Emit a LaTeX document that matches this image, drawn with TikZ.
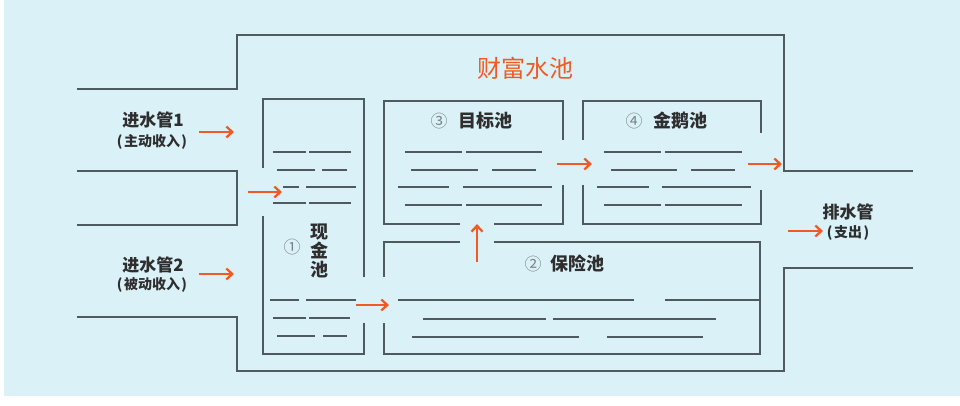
\documentclass[tikz,border=0pt]{standalone}
\usepackage{fontspec}
\setmainfont{Noto Sans CJK SC}
\usetikzlibrary{arrows.meta}
\definecolor{bgc}{HTML}{DAF1F8}
\definecolor{wallc}{HTML}{4E5A60}
\definecolor{orangec}{HTML}{F05A24}
\definecolor{txtc}{HTML}{2E2E2E}
\definecolor{numc}{HTML}{7A8488}
\tikzset{
  wall/.style={draw=wallc, line width=1.9pt, line join=miter},
  water/.style={draw=wallc, line width=1.7pt},
  flow/.style={draw=orangec, line width=2.3pt, -{Straight Barb[length=6pt,width=11pt,line width=2.3pt]}},
  lbl/.style={text=txtc, font=\fontsize{17}{19}\selectfont\bfseries, inner sep=0pt},
  sublbl/.style={text=txtc, font=\fontsize{14}{15}\selectfont\bfseries, inner sep=0pt},
  pooltitle/.style={text=txtc, font=\fontsize{18}{19}\selectfont\bfseries, inner sep=0pt},
  num/.style={text=numc, font=\fontsize{17}{18}\selectfont, inner sep=0pt}
}
\begin{document}
\begin{tikzpicture}[x=1pt,y=-1pt]
\useasboundingbox (0,0) rectangle (960,405);
\fill[white] (0,0) rectangle (960,405);
\fill[bgc] (4,0) rectangle (960,396);

% outer walls
\draw[wall] (77,89) -- (237,89) -- (237,35) -- (784,35) -- (784,171) -- (913,171);
\draw[wall] (77,171) -- (237,171) -- (237,225) -- (77,225);
\draw[wall] (77,317) -- (237,317) -- (237,371) -- (784,371) -- (784,268) -- (913,268);

% pool 1
\draw[wall] (263,168) -- (263,99) -- (364,99) -- (364,277);
\draw[wall] (263,216) -- (263,354) -- (364,354) -- (364,323);
% pool 3
\draw[wall] (563,140) -- (563,101) -- (384,101) -- (384,224) -- (460,224);
\draw[wall] (494,224) -- (563,224) -- (563,185);
% pool 4
\draw[wall] (583,140) -- (583,101) -- (761,101) -- (761,133);
\draw[wall] (583,185) -- (583,224) -- (761,224) -- (761,190);
% pool 2
\draw[wall] (460,242) -- (384,242) -- (384,277);
\draw[wall] (494,242) -- (760,242) -- (760,354) -- (384,354) -- (384,323);

% water lines pool 1
\draw[water] (273,152) -- (306,152) (309,152) -- (351,152);
\draw[water] (277,170) -- (315,170) (322,170) -- (347,170);
\draw[water] (283,187) -- (299,187) (306,187) -- (356,187);
\draw[water] (273,203) -- (306,203) (309,203) -- (351,203);
\draw[water] (270,300) -- (299,300) (306,300) -- (356,300);
\draw[water] (273,318) -- (306,318) (309,318) -- (350,318);
\draw[water] (277,336) -- (315,336) (323,336) -- (347,336);
% water lines pool 3
\draw[water] (405,152) -- (462,152) (466,152) -- (542,152);
\draw[water] (411,170) -- (478,170) (492,170) -- (536,170);
\draw[water] (398,187) -- (449,187) (463,187) -- (552,187);
\draw[water] (405,205) -- (462,205) (466,205) -- (542,205);
% water lines pool 4
\draw[water] (604,152) -- (661,152) (665,152) -- (742,152);
\draw[water] (611,170) -- (677,170) (691,170) -- (735,170);
\draw[water] (597,187) -- (649,187) (662,187) -- (751,187);
\draw[water] (604,205) -- (661,205) (665,205) -- (742,205);
% water lines pool 2
\draw[water] (398,300) -- (634,300) (665,300) -- (760,300);
\draw[water] (423,319) -- (546,319) (553,319) -- (716,319);
\draw[water] (412,337) -- (579,337) (607,337) -- (703,337);

% flow arrows
\draw[flow] (199,132) -- (234,132);
\draw[flow] (199,274) -- (234,274);
\draw[flow] (248,192) -- (282,192);
\draw[flow] (356,305) -- (389,305);
\draw[flow] (477,262) -- (477,224);
\draw[flow] (557,164) -- (592,164);
\draw[flow] (748,164) -- (782,164);
\draw[flow] (788,231) -- (823,231);

% texts
\node[text=orangec, font=\fontsize{24}{26}\selectfont, inner sep=0pt] (title) at (525,68) {财富水池};
\node[lbl] (in1) at (153,120) {进水管1};
\node[sublbl] (in1s) at (152,142) {(\hspace{1.5pt}主动收入\hspace{1.5pt})};
\node[lbl] (in2) at (153,265) {进水管2};
\node[sublbl] (in2s) at (152,285) {(\hspace{1.5pt}被动收入\hspace{1.5pt})};
\node[lbl] (outl) at (848,212) {排水管};
\node[sublbl] (outs) at (848,233) {(\hspace{1.5pt}支出\hspace{1.5pt})};

\node[num] (n1) at (292,247) {①};
\node[pooltitle, align=center] (p1) at (319,251) {现\\金\\池};
\node[num] (n3) at (439,121) {③};
\node[pooltitle] (p3) at (485,121) {目标池};
\node[num] (n4) at (634,121) {④};
\node[pooltitle] (p4) at (680,121) {金鹅池};
\node[num] (n2) at (533,264) {②};
\node[pooltitle] (p2) at (577,264) {保险池};
\end{tikzpicture}
\end{document}
